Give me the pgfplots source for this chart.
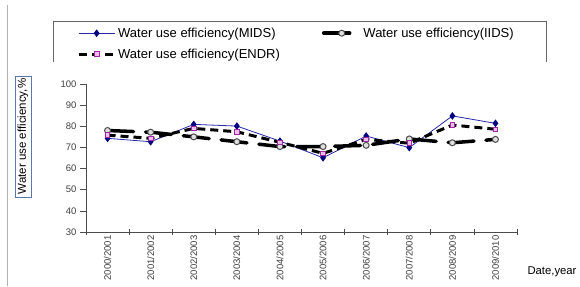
\documentclass[border=0pt]{standalone}
\usepackage{pgfplots}
\pgfplotsset{compat=1.18}
\usepackage{fontspec}
\setmainfont{Liberation Sans}
\definecolor{midsline}{RGB}{40,40,170}
\definecolor{midsmark}{RGB}{0,0,128}
\definecolor{endrmark}{RGB}{160,40,160}
\definecolor{endrfill}{RGB}{235,190,235}
\definecolor{ylabbox}{RGB}{90,120,170}
\begin{document}
\begin{tikzpicture}[x=1pt,y=1pt]
\useasboundingbox (0,0) rectangle (580,286);
\fill[white] (0,0) rectangle (580,286);
\draw[gray!60, line width=0.8pt] (7,0) -- (7,281);
\begin{axis}[
  at={(86pt,54pt)}, anchor=south west, scale only axis,
  width=431pt, height=148pt,
  xmin=0.5, xmax=10.5, ymin=30, ymax=100,
  axis lines*=left,
  axis line style={black!70, line width=0.7pt},
  every tick/.style={black!70, line width=0.7pt},
  ytick={30,40,...,100},
  ytick align=outside, major tick length=6pt,
  xtick={0.5,1.5,...,10.5}, xticklabels={}, xtick align=center,
  extra x ticks={1,2,...,10},
  extra x tick labels={2000/2001,2001/2002,2002/2003,2003/2004,2004/2005,2005/2006,2006/2007,2007/2008,2008/2009,2009/2010},
  extra x tick style={major tick length=0pt},
  x tick label style={rotate=90, anchor=east, text=black!75, font=\fontsize{9.5}{10}\selectfont},
  y tick label style={text=black!75, font=\fontsize{9.5}{10}\selectfont},
  /pgf/number format/assume math mode=true,
  legend columns=2,
  legend cell align=left,
  legend style={draw=none, fill=none, at={(-0.021,1.395)}, anchor=north west,
    font=\fontsize{13}{15}\selectfont, inner sep=0pt, row sep=6pt,
    /tikz/every even column/.append style={column sep=40pt}},
  legend image code/.code={\draw[mark repeat=2,mark phase=2,#1] plot coordinates {(0pt,0pt) (18pt,0pt) (36pt,0pt)};},
]
\addplot[color=midsline, line width=0.8pt, mark=diamond*, mark size=3.2pt,
  mark options={fill=midsmark, draw=midsmark}]
  coordinates {(1,74.3)(2,72.7)(3,80.9)(4,80.1)(5,73.0)(6,65.1)(7,75.4)(8,69.9)(9,84.9)(10,81.4)};
\addlegendentry{Water use efficiency(MIDS)}
\addplot[color=black, line width=3.5pt, line cap=round, dash pattern=on 26pt off 12pt,
  mark=*, mark size=3pt, mark options={solid, fill=gray!25, draw=black!70, line width=1pt}]
  coordinates {(1,78.0)(2,77.2)(3,75.0)(4,72.7)(5,70.4)(6,70.4)(7,71.0)(8,74.0)(9,72.2)(10,73.8)};
\addlegendentry{Water use efficiency(IIDS)}
\addplot[color=black, line width=3pt, dash pattern=on 8pt off 5pt,
  mark=square*, mark size=2.3pt, mark options={solid, fill=endrfill, draw=endrmark, line width=0.8pt}]
  coordinates {(1,75.8)(2,74.3)(3,79.0)(4,77.4)(5,72.4)(6,67.2)(7,73.8)(8,72.0)(9,80.6)(10,78.6)};
\addlegendentry{Water use efficiency(ENDR)}
\end{axis}
\draw[black!60, line width=0.7pt] (53,224) -- (53,265) -- (546,265) -- (546,224);
\node[draw=ylabbox, rotate=90, inner sep=2.5pt, font=\fontsize{11.5}{13}\selectfont] at (23,149.5) {Water use efficiency,\%};
\node[font=\fontsize{11.3}{13}\selectfont] at (552,14) {Date,year};
\end{tikzpicture}
\end{document}
